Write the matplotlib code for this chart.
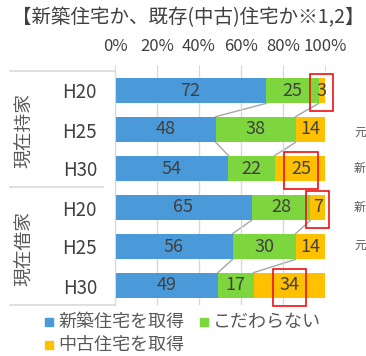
import matplotlib
matplotlib.use("Agg")
import matplotlib.pyplot as plt
from matplotlib.patches import Rectangle
from matplotlib.lines import Line2D

plt.rcParams['font.family'] = ['Noto Sans CJK JP', 'DejaVu Sans']

# ── data ──────────────────────────────────────────────────────────────────────
TITLE   = "【新築住宅か、既存(中古)住宅か※1,2】"
GROUPS  = ["現在持家", "現在借家"]
YEARS   = ["H20", "H25", "H30", "H20", "H25", "H30"]
SERIES  = ["新築住宅を取得", "こだわらない", "中古住宅を取得"]
new_home  = [72, 48, 54, 65, 56, 49]
no_pref   = [25, 38, 22, 28, 30, 17]
used_home = [3, 14, 25, 7, 14, 34]
HIGHLIGHT = [0, 2, 3, 5]            # rows whose 中古 value is boxed in red
X_TICKS   = [0, 20, 40, 60, 80, 100]
SIDE_TEXT = ["元", "新", "新", "元"]   # text of the neighbouring chart, right edge

COLORS = ["#4A9ADA", "#7ED63E", "#FFC000"]
TXT    = "#404040"
GRID   = "#D9D9D9"

W, H = 366, 356
fig = plt.figure(figsize=(W / 100, H / 100), dpi=100)
ax = fig.add_axes([115 / W, 1 - 305 / H, 210 / W, 234 / H])

rows = list(range(len(YEARS)))
bh = 0.66
vals = [new_home, no_pref, used_home]
left = [0] * len(rows)
for s, v in enumerate(vals):
    ax.barh(rows, v, left=left, height=bh, color=COLORS[s], zorder=2)
    for r in rows:
        ax.text(left[r] + v[r] / 2, r, str(v[r]), ha="center", va="center",
                fontsize=13, color=TXT, zorder=4)
    left = [a + b for a, b in zip(left, v)]

# series lines inside each group
cum1 = new_home
cum2 = [a + b for a, b in zip(new_home, no_pref)]
for r in rows:
    if r % 3 == 2:
        continue
    for c in (cum1, cum2):
        ax.plot([c[r], c[r + 1]], [r + bh / 2, r + 1 - bh / 2],
                color="#A6A6A6", lw=1, zorder=1)

# red boxes around highlighted values
for r in HIGHLIGHT:
    cx = cum2[r] + used_home[r] / 2
    w = 6 + 5 * len(str(used_home[r]))
    ax.add_patch(Rectangle((cx - w / 2, r + 0.05 - 0.48), w, 0.96, fill=False,
                           ec="#EE1111", lw=1.2, zorder=5, clip_on=False))

ax.set_xlim(0, 100)
ax.set_ylim(5.5, -0.5)
ax.set_xticks(X_TICKS)
ax.set_xticklabels([f"{t}%" for t in X_TICKS])
ax.xaxis.tick_top()
ax.tick_params(axis="x", length=4.5, color=GRID, pad=7, labelsize=12,
               labelcolor=TXT)
ax.set_yticks(rows)
ax.set_yticklabels(YEARS)
ax.tick_params(axis="y", length=0, pad=13, labelsize=13.5, labelcolor=TXT)
ax.grid(axis="x", color=GRID, lw=1, zorder=0)
for sp in ["top", "right", "bottom"]:
    ax.spines[sp].set_visible(False)
ax.spines["left"].set_color(GRID)

# category table lines on the left
for y, x1 in [(71, 115), (187, 103), (305, 115)]:
    fig.add_artist(Line2D([10 / W, x1 / W], [1 - y / H, 1 - y / H],
                          color=GRID, lw=1.2))
for g, yc in zip(GROUPS, [130, 248]):
    fig.text(25 / W, 1 - yc / H, g, rotation=90, ha="center", va="center",
             fontsize=13.5, color="#595959")

for t, yc in zip(SIDE_TEXT, [132, 168, 207, 245]):
    fig.text(354 / W, 1 - yc / H, t, ha="left", va="center", fontsize=8.5,
             color="#595959")

fig.text(12 / W, 1 - 18 / H, TITLE, ha="left", va="center", fontsize=14,
         color=TXT)

# legend
for name, col, (x0, yc) in zip(SERIES, COLORS, [(45, 322), (200, 322), (45, 345)]):
    fig.add_artist(Rectangle((x0 / W, 1 - (yc + 4) / H), 8 / W, 8 / H,
                             color=col, transform=fig.transFigure))
    fig.text((x0 + 13) / W, 1 - yc / H, name, ha="left", va="center",
             fontsize=13, color="#595959")

fig.savefig("out.png", dpi=100)
